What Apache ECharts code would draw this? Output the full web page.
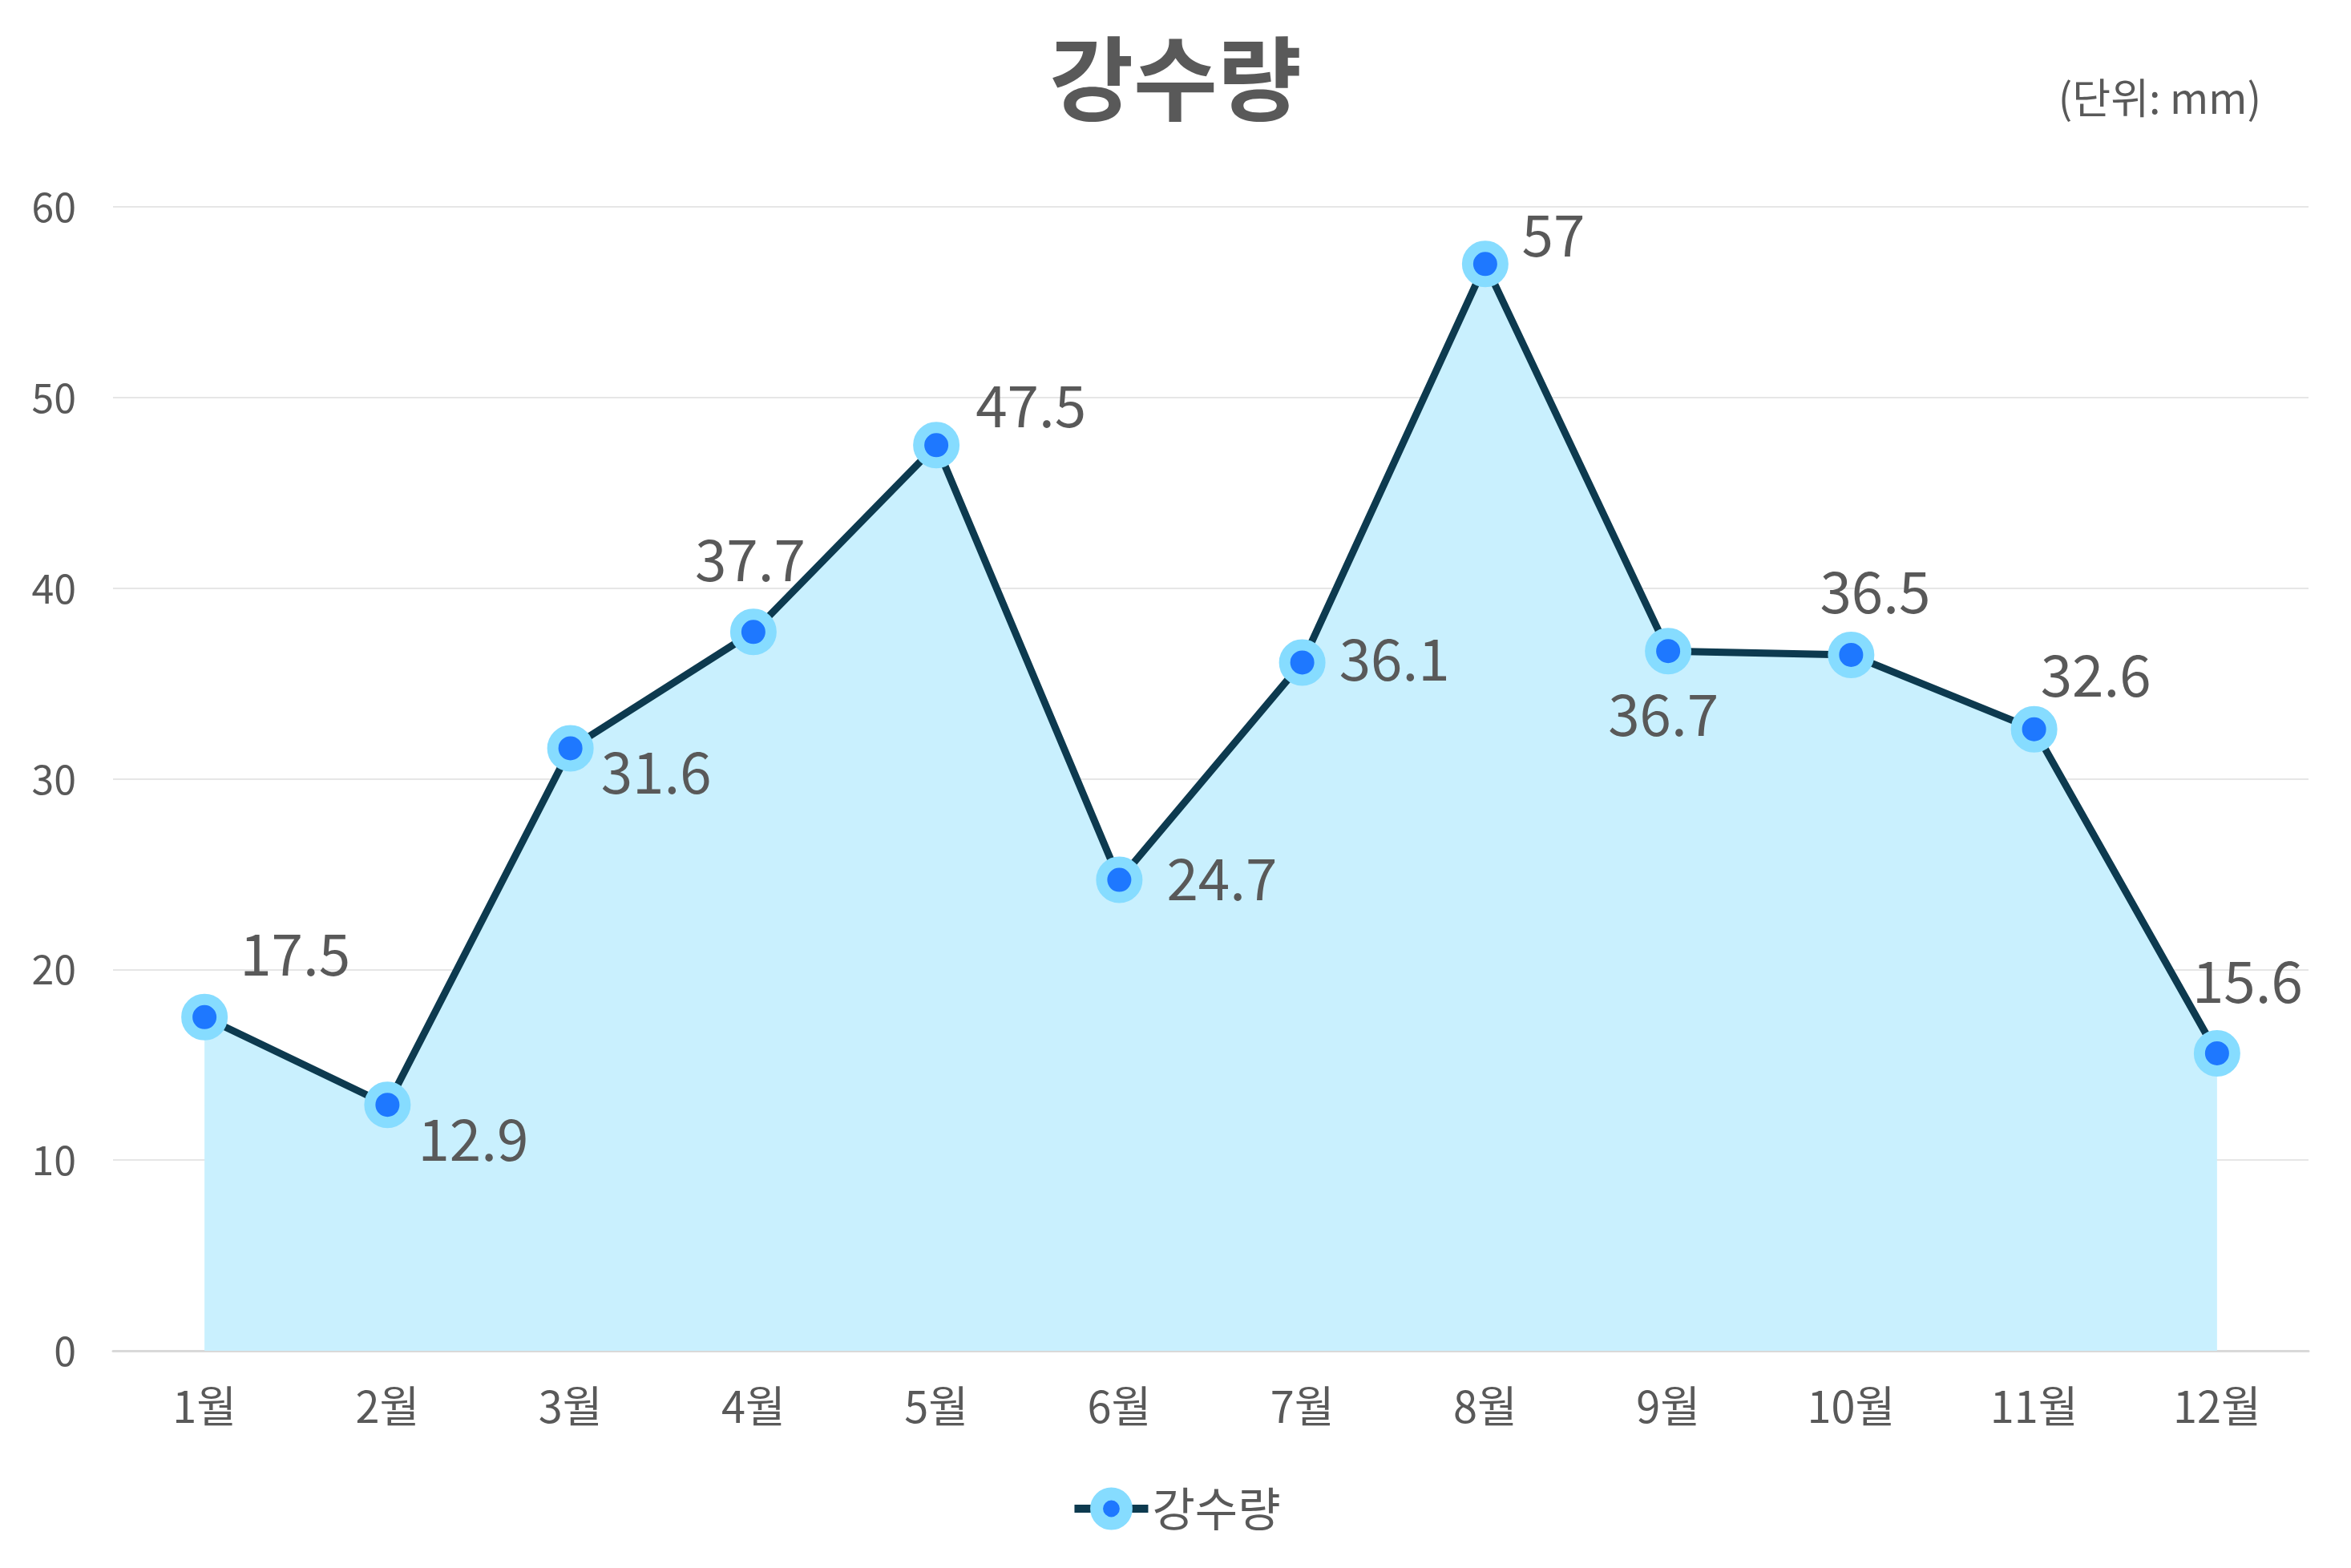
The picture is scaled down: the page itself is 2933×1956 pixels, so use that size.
<!DOCTYPE html>
<html>
<head>
<meta charset="utf-8">
<title>강수량</title>
<script src="https://cdn.jsdelivr.net/npm/echarts@6/dist/echarts.min.js"></script>
<style>
    html, body { margin: 0; padding: 0; background: #fff; }
    #chart { width: 2933px; height: 1956px; }
</style>
</head>
<body>
<div id="chart"></div>
<script>
    var months = ['1월', '2월', '3월', '4월', '5월', '6월', '7월', '8월', '9월', '10월', '11월', '12월'];
    var rainfall = [17.5, 12.9, 31.6, 37.7, 47.5, 24.7, 36.1, 57, 36.7, 36.5, 32.6, 15.6];
    var yTicks = [0, 10, 20, 30, 40, 50, 60];

    // 라벨 위치 (심볼 중심 기준 오프셋)
    var labelOffsets = [
        [113, -79], [107, 43], [107, 30], [-4, -90], [118, -49], [128, -2],
        [115, -4], [85, -36], [-6, 79], [30, -79], [77, -68], [38, -90]
    ];

    var font = '"Noto Sans CJK KR", "Noto Sans", sans-serif';
    var textColor = '#595959';

    var seriesData = [];
    for (var i = 0; i < rainfall.length; i++) {
        seriesData.push({
            value: rainfall[i],
            label: { offset: labelOffsets[i] }
        });
    }

    var myChart = echarts.init(document.getElementById('chart'));
    var option = {
        backgroundColor: '#ffffff',
        textStyle: { fontFamily: font },
        title: {
            text: '강수량',
            left: 'center',
            top: 36,
            textStyle: { fontFamily: font, fontSize: 114, fontWeight: 'bold', color: textColor }
        },
        graphic: [{
            type: 'text',
            right: 112,
            top: 96,
            style: { text: '(단위: mm)', fontFamily: font, fontSize: 52, fill: textColor }
        }],
        legend: {
            bottom: 40,
            left: 'center',
            itemWidth: 92,
            itemHeight: 46,
            itemGap: 8,
            itemStyle: { color: '#1e78ff', borderColor: '#86dcff', borderWidth: 16 },
            lineStyle: { color: '#0d3a4f', width: 10 },
            textStyle: { fontFamily: font, fontSize: 58, color: textColor },
            data: ['강수량']
        },
        grid: {
            left: 141,
            right: 53,
            top: 258,
            bottom: 271,
            containLabel: false
        },
        xAxis: {
            type: 'category',
            data: months,
            boundaryGap: true,
            axisTick: { show: false },
            axisLine: { lineStyle: { color: '#d9d9d9', width: 3 } },
            axisLabel: { fontFamily: font, fontSize: 54, color: textColor, margin: 42 }
        },
        yAxis: {
            type: 'value',
            min: yTicks[0],
            max: yTicks[yTicks.length - 1],
            interval: 10,
            axisLine: { show: false },
            axisTick: { show: false },
            splitLine: { lineStyle: { color: '#e6e6e6', width: 2 } },
            axisLabel: { fontFamily: font, fontSize: 50, color: textColor, margin: 46 }
        },
        series: [{
            name: '강수량',
            type: 'line',
            data: seriesData,
            symbol: 'circle',
            symbolSize: 44,
            itemStyle: { color: '#1e78ff', borderColor: '#86dcff', borderWidth: 14 },
            lineStyle: { color: '#0d3a4f', width: 9 },
            areaStyle: { color: '#c9f0fe', opacity: 1 },
            label: {
                show: true,
                position: 'inside',
                fontFamily: font,
                fontSize: 71,
                color: textColor
            },
            emphasis: { disabled: true },
            animation: false
        }]
    };
    myChart.setOption(option);
</script>
</body>
</html>
